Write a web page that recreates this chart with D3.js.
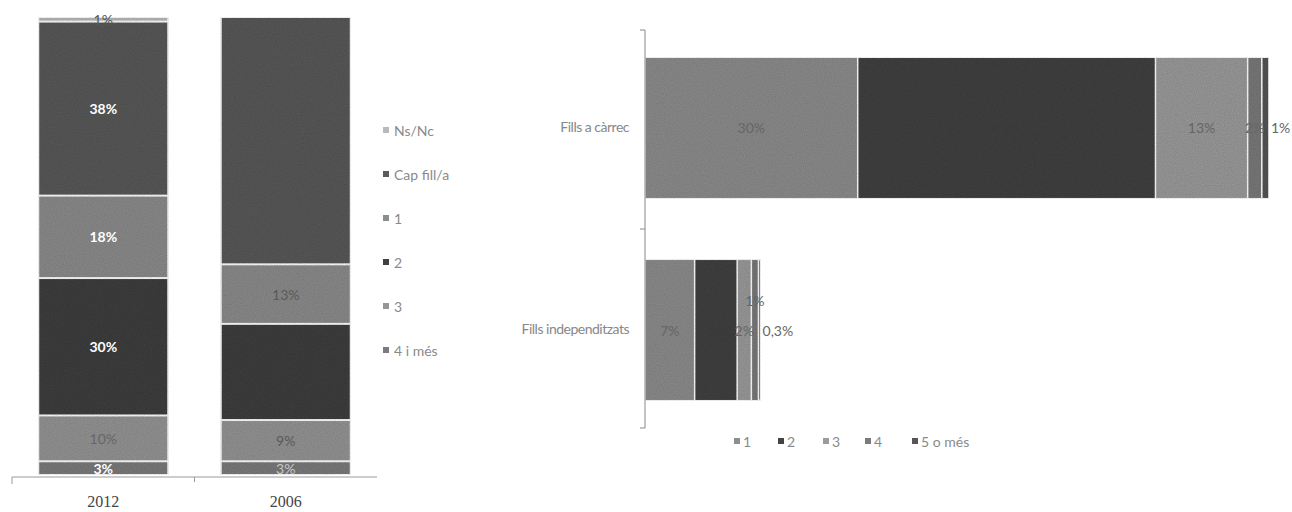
<!DOCTYPE html>
<html><head><meta charset="utf-8">
<script src="https://cdn.jsdelivr.net/npm/d3@7"></script>
<style>
body{margin:0;background:#fff;}
svg{display:block;}
text{font-family:Lato,"DejaVu Sans",sans-serif;}
</style></head>
<body><svg id="c" width="1292" height="512"></svg>
<script>
// ---- Left chart data (stacked %, by year) ----
const years = ["2012", "2006"];
const leftSeries = ["Ns/Nc", "Cap fill/a", "1", "2", "3", "4 i més"];
const vals2012 = [1, 38, 18, 30, 10, 3];
const vals2006 = [0, 54, 13, 21, 9, 3];
// ---- Right chart data (horizontal stacked %) ----
const rightCats = ["Fills a càrrec", "Fills independitzats"];
const rightSeries = ["1", "2", "3", "4", "5 o més"];
const valsCarrec = [30, 42, 13, 2, 1];
const valsIndep = [7, 6, 2, 1, 0.3];

// ---- styles ----
const leftColors = ["#b9b9b9", "#5a5a5a", "#8c8c8c", "#414141", "#959595", "#7b7b7b"];
const rightColors = ["#8d8d8d", "#434343", "#9b9b9b", "#7a7a7a", "#565656"];
const labelColors2012 = ["#555", "#fff", "#fff", "#fff", "#666", "#fff"];
const labelColors2006 = ["#555", "#525252", "#5a5a5a", "#3a3a3a", "#5a5a5a", "#c8c8c8"];

const svg = d3.select("#c");
const fmt = v => String(v).replace(".", ",") + "%";

// noise filter to mimic scanned texture
const defs = svg.append("defs");
const f = defs.append("filter").attr("id","noise").attr("x",0).attr("y",0).attr("width","100%").attr("height","100%");
f.append("feTurbulence").attr("type","fractalNoise").attr("baseFrequency",0.9).attr("numOctaves",1).attr("seed",3).attr("result","t");
f.append("feColorMatrix").attr("in","t").attr("type","matrix")
  .attr("values","0 0 0 0 0  0 0 0 0 0  0 0 0 0 0  0 0 0 0.35 0").attr("result","n");
f.append("feComposite").attr("in","n").attr("in2","SourceGraphic").attr("operator","in").attr("result","nn");
f.append("feMerge").call(m=>{m.append("feMergeNode").attr("in","SourceGraphic");m.append("feMergeNode").attr("in","nn");});

// ================= LEFT CHART =================
const xL = d3.scaleBand().domain(years).range([12, 377]).paddingInner(0.29).paddingOuter(0.145);
const yL = d3.scaleLinear().domain([0, 100]).range([475, 17]);
const leftData = {"2012": vals2012, "2006": vals2006};

const gL = svg.append("g");
years.forEach(yr => {
  const vals = leftData[yr];
  let cum = 0;
  const segs = [];
  for (let i = vals.length - 1; i >= 0; i--) {
    segs.push({i, v: vals[i], y0: cum, y1: cum + vals[i]});
    cum += vals[i];
  }
  const bw = 130;
  const cx = xL(yr) + xL.bandwidth() / 2;
  segs.filter(s => s.v > 0).forEach(s => {
    gL.append("rect")
      .attr("x", cx - bw / 2).attr("width", bw)
      .attr("y", yL(s.y1)).attr("height", yL(s.y0) - yL(s.y1))
      .attr("fill", leftColors[s.i]).attr("stroke", "#fff").attr("stroke-width", 2)
      .attr("filter", "url(#noise)");
  });
  const lc = yr === "2012" ? labelColors2012 : labelColors2006;
  segs.filter(s => s.v > 0).forEach(s => {
    gL.append("text")
      .attr("x", cx).attr("y", (yL(s.y0) + yL(s.y1)) / 2)
      .attr("text-anchor", "middle").attr("dominant-baseline", "central")
      .attr("font-size", 14).attr("font-weight", lc[s.i] === "#fff" ? "bold" : "normal")
      .attr("fill", lc[s.i]).text(fmt(s.v));
  });
});

// x axis left
const axL = d3.axisBottom(xL).tickSize(0).tickPadding(19);
const gAx = svg.append("g").attr("transform", "translate(0,477)").call(axL);
gAx.select(".domain").attr("stroke", "#999").attr("d", "M12,7V0H377");
gAx.selectAll("text").style("font-family", "'Liberation Serif',serif").attr("font-size", 16).attr("fill", "#444");
gAx.append("line").attr("x1", xL.step() + 12).attr("x2", xL.step() + 12).attr("y1", 0).attr("y2", 5).attr("stroke", "#999");

// legend left
const legL = svg.append("g");
leftSeries.forEach((s, i) => {
  const y = 130 + i * 44;
  legL.append("rect").attr("x", 383).attr("y", y - 3).attr("width", 6).attr("height", 6).attr("fill", leftColors[i]);
  legL.append("text").attr("x", 394).attr("y", y).attr("dominant-baseline", "central")
    .attr("font-size", 14).attr("fill", "#8a8a8a").text(s);
});

// ================= RIGHT CHART =================
const yR = d3.scaleBand().domain(rightCats).range([30, 428]).paddingInner(0.3).paddingOuter(0.135);
const xR = d3.scaleLinear().domain([0, 100]).range([645, 1354]);
const rightData = {"Fills a càrrec": valsCarrec, "Fills independitzats": valsIndep};
const gR = svg.append("g");
rightCats.forEach(cat => {
  const vals = rightData[cat];
  let cum = 0;
  const segs = vals.map((v, i) => { const s = {i, v, x0: cum, x1: cum + v}; cum += v; return s; });
  const y0 = yR(cat), h = yR.bandwidth();
  segs.forEach(s => {
    gR.append("rect").attr("x", xR(s.x0)).attr("width", xR(s.x1) - xR(s.x0))
      .attr("y", y0).attr("height", h)
      .attr("fill", rightColors[s.i]).attr("stroke", "#fff").attr("stroke-width", 1.5)
      .attr("filter", "url(#noise)");
  });
  segs.forEach((s, k) => {
    let x = (xR(s.x0) + xR(s.x1)) / 2, y = y0 + h / 2, anchor = "middle";
    const last = k === segs.length - 1;
    if (last && s.v < 1.5) { x = xR(s.x1) + 2; anchor = "start"; }
    else if (s.v < 1.5) { y -= 30; }
    gR.append("text").attr("x", x).attr("y", y).attr("text-anchor", anchor)
      .attr("dominant-baseline", "central").attr("font-size", 14)
      .attr("fill", s.i === 1 ? "#3a3a3a" : "#666").text(fmt(s.v));
  });
});
// y axis right
const axR = d3.axisLeft(yR).tickSize(0).tickPadding(16);
const gAxR = svg.append("g").attr("transform", "translate(645,0)").call(axR);
gAxR.select(".domain").attr("stroke", "#888").attr("d", "M-5,30H0V428H-5");
gAxR.append("line").attr("x1", -5).attr("x2", 0).attr("y1", 229).attr("y2", 229).attr("stroke", "#888");
gAxR.selectAll(".tick text").style("font-family", "Lato,sans-serif").attr("font-size", 14).attr("fill", "#888").attr("letter-spacing", -0.5);

// legend right
const legX = [734, 778, 823, 865, 912];
const legR = svg.append("g");
rightSeries.forEach((s, i) => {
  legR.append("rect").attr("x", legX[i]).attr("y", 438).attr("width", 6).attr("height", 6).attr("fill", rightColors[i]);
  legR.append("text").attr("x", legX[i] + 9).attr("y", 441).attr("dominant-baseline", "central")
    .attr("font-size", 14).attr("fill", "#8a8a8a").text(s);
});
</script></body></html>
